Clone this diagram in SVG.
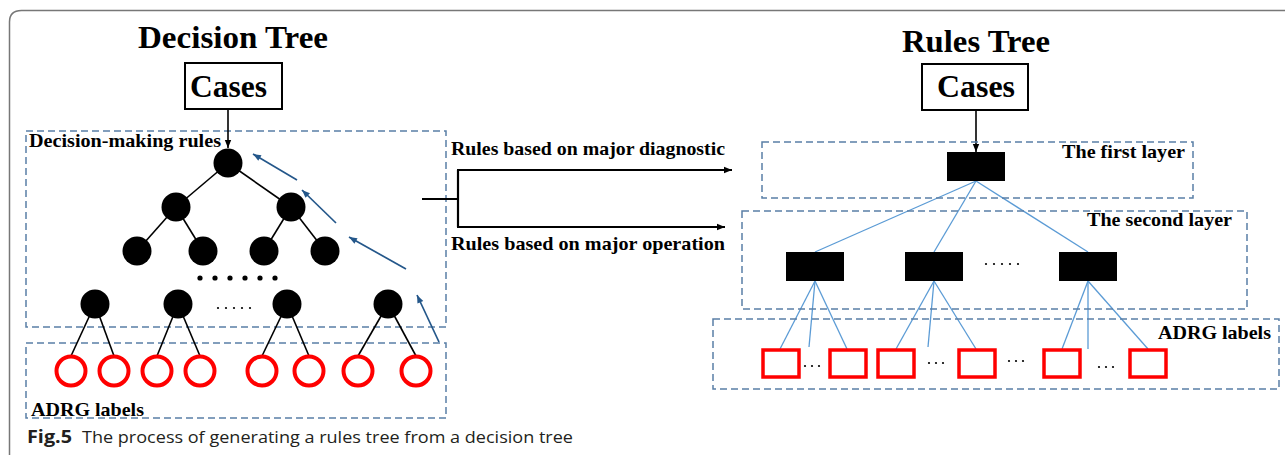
<svg xmlns="http://www.w3.org/2000/svg" width="1285" height="455" viewBox="0 0 1285 455">
  <style>
    .title { font-family: "Liberation Serif", "Times New Roman", serif; font-weight: bold; font-size: 32px; fill: #000; }
    .lbl { font-family: "Liberation Serif", "Times New Roman", serif; font-weight: bold; font-size: 19px; fill: #000; }
    .cap { font-family: "Open Sans", "Noto Sans", sans-serif; font-size: 17px; fill: #231f20; }
    .zone { fill: none; stroke: #5a7fa6; stroke-width: 1.5; stroke-dasharray: 7 4; }
    .box { fill: #fff; stroke: #000; stroke-width: 2; }
    .edge { stroke: #000; stroke-width: 1.6; fill: none; }
    .blue { stroke: #5b9bd5; stroke-width: 1.3; fill: none; }
    .back { stroke: #24578a; stroke-width: 1.7; fill: none; marker-end: url(#headBlue); }
    .flow { stroke: #000; stroke-width: 2.2; fill: none; }
    .dnode { fill: #000; }
    .leaf { fill: #fff; stroke: #ff0000; stroke-width: 4; }
    .rleaf { fill: #fff; stroke: #ff0000; stroke-width: 3.5; }
    .dot { fill: #000; }
  </style>
  <defs>
    <marker id="headBlack" viewBox="0 0 10 10" refX="10" refY="5" markerWidth="8" markerHeight="8" markerUnits="userSpaceOnUse" orient="auto">
      <path d="M0 1 L10 5 L0 9 Z" fill="#000"/>
    </marker>
    <marker id="headFlow" viewBox="0 0 10 10" refX="10" refY="5" markerWidth="9" markerHeight="8" markerUnits="userSpaceOnUse" orient="auto">
      <path d="M0 1 L10 5 L0 9 Z" fill="#000"/>
    </marker>
    <marker id="headBlue" viewBox="0 0 10 10" refX="10" refY="5" markerWidth="9" markerHeight="8" markerUnits="userSpaceOnUse" orient="auto">
      <path d="M0 1 L10 5 L0 9 Z" fill="#24578a"/>
    </marker>
  </defs>

  <!-- figure frame (open at right and bottom) -->
  <path d="M9.5 455 V22 Q9.5 10.5 21.5 10.5 H1285" fill="none" stroke="#777" stroke-width="1.5"/>

  <!-- ===== Decision tree (left) ===== -->
  <text class="title" x="138" y="48" textLength="190" lengthAdjust="spacingAndGlyphs">Decision Tree</text>

  <g id="zone-rules">
    <rect class="zone" x="26" y="131" width="420" height="196"/>
    <text class="lbl" x="29" y="147" font-size="18" textLength="192" lengthAdjust="spacingAndGlyphs">Decision-making rules</text>
  </g>
  <g id="zone-adrg-left">
    <rect class="zone" x="26" y="343" width="420" height="75"/>
    <text class="lbl" x="31" y="416" textLength="113" lengthAdjust="spacingAndGlyphs">ADRG labels</text>
  </g>

  <g id="connectors">
    <!-- cases to root -->
    <line class="edge" x1="228" y1="109" x2="228" y2="148" marker-end="url(#headBlack)"/>
    <!-- decision tree edges -->
    <line class="edge" x1="228" y1="163" x2="176" y2="207"/>
    <line class="edge" x1="228" y1="163" x2="291" y2="207"/>
    <line class="edge" x1="176" y1="207" x2="137" y2="251"/>
    <line class="edge" x1="176" y1="207" x2="203" y2="251"/>
    <line class="edge" x1="291" y1="207" x2="264" y2="251"/>
    <line class="edge" x1="291" y1="207" x2="325" y2="251"/>
    <line class="edge" x1="95" y1="304" x2="71" y2="356"/>
    <line class="edge" x1="95" y1="304" x2="114" y2="356"/>
    <line class="edge" x1="178" y1="304" x2="157" y2="356"/>
    <line class="edge" x1="178" y1="304" x2="200" y2="356"/>
    <line class="edge" x1="287" y1="304" x2="262" y2="356"/>
    <line class="edge" x1="287" y1="304" x2="309" y2="356"/>
    <line class="edge" x1="388" y1="304" x2="358" y2="356"/>
    <line class="edge" x1="388" y1="304" x2="416" y2="356"/>
    <!-- upward rule extraction arrows -->
    <line class="back" x1="297" y1="180" x2="253" y2="154"/>
    <line class="back" x1="336" y1="223" x2="302" y2="190"/>
    <line class="back" x1="406" y1="269" x2="349" y2="237"/>
    <line class="back" x1="439" y1="342" x2="417" y2="295"/>
    <!-- split into the two rule families -->
    <path class="flow" d="M422 199 H458"/>
    <path class="flow" d="M458 170 V227"/>
    <path class="flow" d="M457 170 H732" marker-end="url(#headFlow)"/>
    <path class="flow" d="M457 227 H725" marker-end="url(#headFlow)"/>
    <!-- rules tree -->
    <line class="edge" x1="976" y1="110" x2="976" y2="152" marker-end="url(#headBlack)"/>
    <line class="blue" x1="976" y1="181" x2="815" y2="252"/>
    <line class="blue" x1="976" y1="181" x2="934" y2="252"/>
    <line class="blue" x1="976" y1="181" x2="1088" y2="252"/>
    <line class="blue" x1="815" y1="281" x2="780" y2="349"/>
    <line class="blue" x1="815" y1="281" x2="809" y2="347"/>
    <line class="blue" x1="815" y1="281" x2="847" y2="349"/>
    <line class="blue" x1="934" y1="281" x2="896" y2="349"/>
    <line class="blue" x1="934" y1="281" x2="928" y2="347"/>
    <line class="blue" x1="934" y1="281" x2="976" y2="349"/>
    <line class="blue" x1="1088" y1="281" x2="1062" y2="349"/>
    <line class="blue" x1="1088" y1="281" x2="1088" y2="349"/>
    <line class="blue" x1="1088" y1="281" x2="1148" y2="349"/>
  </g>

  <g id="cases-left">
    <rect class="box" x="185" y="63" width="97" height="46"/>
    <text class="title" x="190" y="97" font-size="31" textLength="77" lengthAdjust="spacingAndGlyphs">Cases</text>
  </g>

  <g id="dt-root"><circle class="dnode" cx="228" cy="163" r="14.5"/></g>
  <g id="dt-l2a"><circle class="dnode" cx="176" cy="207" r="14.5"/></g>
  <g id="dt-l2b"><circle class="dnode" cx="291" cy="207" r="14.5"/></g>
  <g id="dt-l3a"><circle class="dnode" cx="137" cy="251" r="14.5"/></g>
  <g id="dt-l3b"><circle class="dnode" cx="203" cy="251" r="14.5"/></g>
  <g id="dt-l3c"><circle class="dnode" cx="264" cy="251" r="14.5"/></g>
  <g id="dt-l3d"><circle class="dnode" cx="325" cy="251" r="14.5"/></g>
  <g id="dt-ellipsis">
    <circle class="dot" cx="200" cy="278" r="2.6"/>
    <circle class="dot" cx="215" cy="278" r="2.6"/>
    <circle class="dot" cx="230" cy="278" r="2.6"/>
    <circle class="dot" cx="245" cy="278" r="2.6"/>
    <circle class="dot" cx="260" cy="278" r="2.6"/>
    <circle class="dot" cx="275" cy="278" r="2.6"/>
    <circle class="dot" cx="218" cy="308" r="1.1"/>
    <circle class="dot" cx="226" cy="308" r="1.1"/>
    <circle class="dot" cx="234" cy="308" r="1.1"/>
    <circle class="dot" cx="242" cy="308" r="1.1"/>
    <circle class="dot" cx="250" cy="308" r="1.1"/>
  </g>
  <g id="dt-l4a"><circle class="dnode" cx="95" cy="304" r="14.5"/></g>
  <g id="dt-l4b"><circle class="dnode" cx="178" cy="304" r="14.5"/></g>
  <g id="dt-l4c"><circle class="dnode" cx="287" cy="304" r="14.5"/></g>
  <g id="dt-l4d"><circle class="dnode" cx="388" cy="304" r="14.5"/></g>

  <g id="dt-leaves">
    <circle class="leaf" cx="71" cy="371" r="14.5"/>
    <circle class="leaf" cx="114" cy="371" r="14.5"/>
    <circle class="leaf" cx="157" cy="371" r="14.5"/>
    <circle class="leaf" cx="200" cy="371" r="14.5"/>
    <circle class="leaf" cx="262" cy="371" r="14.5"/>
    <circle class="leaf" cx="309" cy="371" r="14.5"/>
    <circle class="leaf" cx="358" cy="371" r="14.5"/>
    <circle class="leaf" cx="416" cy="371" r="14.5"/>
  </g>

  <g id="split-labels">
    <text class="lbl" x="451" y="155" font-size="18" textLength="274" lengthAdjust="spacingAndGlyphs">Rules based on major diagnostic</text>
    <text class="lbl" x="451" y="250" font-size="18" textLength="274" lengthAdjust="spacingAndGlyphs">Rules based on major operation</text>
  </g>

  <!-- ===== Rules tree (right) ===== -->
  <text class="title" x="902" y="52" textLength="148" lengthAdjust="spacingAndGlyphs">Rules Tree</text>

  <g id="cases-right">
    <rect class="box" x="922" y="64" width="106" height="46"/>
    <text class="title" x="937" y="97" font-size="31" textLength="78" lengthAdjust="spacingAndGlyphs">Cases</text>
  </g>

  <g id="zone-first">
    <rect class="zone" x="762" y="142" width="431" height="56"/>
    <text class="lbl" x="1062" y="158" font-size="18" textLength="123" lengthAdjust="spacingAndGlyphs">The first layer</text>
  </g>
  <g id="zone-second">
    <rect class="zone" x="742" y="211" width="505" height="98"/>
    <text class="lbl" x="1087" y="226" textLength="145" lengthAdjust="spacingAndGlyphs">The second layer</text>
  </g>
  <g id="zone-adrg-right">
    <rect class="zone" x="713" y="319" width="566" height="70"/>
    <text class="lbl" x="1158" y="339" textLength="113" lengthAdjust="spacingAndGlyphs">ADRG labels</text>
  </g>

  <g id="rt-first"><rect x="947" y="152" width="58" height="29" fill="#000"/></g>
  <g id="rt-second-a"><rect x="786" y="252" width="58" height="29" fill="#000"/></g>
  <g id="rt-second-b"><rect x="905" y="252" width="58" height="29" fill="#000"/></g>
  <g id="rt-second-c"><rect x="1059" y="252" width="58" height="29" fill="#000"/></g>
  <g id="rt-second-ellipsis">
    <circle class="dot" cx="986" cy="264" r="1.1"/>
    <circle class="dot" cx="994" cy="264" r="1.1"/>
    <circle class="dot" cx="1002" cy="264" r="1.1"/>
    <circle class="dot" cx="1010" cy="264" r="1.1"/>
    <circle class="dot" cx="1018" cy="264" r="1.1"/>
  </g>

  <g id="rt-leaves">
    <rect class="rleaf" x="763" y="350" width="36" height="27"/>
    <rect class="rleaf" x="830" y="350" width="36" height="27"/>
    <rect class="rleaf" x="878" y="350" width="36" height="27"/>
    <rect class="rleaf" x="959" y="350" width="36" height="27"/>
    <rect class="rleaf" x="1044" y="350" width="36" height="27"/>
    <rect class="rleaf" x="1130" y="350" width="36" height="27"/>
    <!-- gaps between leaf groups -->
    <circle class="dot" cx="805" cy="366" r="1.1"/><circle class="dot" cx="812" cy="366" r="1.1"/><circle class="dot" cx="819" cy="366" r="1.1"/>
    <circle class="dot" cx="929" cy="363" r="1.1"/><circle class="dot" cx="936" cy="363" r="1.1"/><circle class="dot" cx="943" cy="363" r="1.1"/>
    <circle class="dot" cx="1009" cy="361" r="1.1"/><circle class="dot" cx="1016" cy="361" r="1.1"/><circle class="dot" cx="1023" cy="361" r="1.1"/>
    <circle class="dot" cx="1099" cy="367" r="1.1"/><circle class="dot" cx="1106" cy="367" r="1.1"/><circle class="dot" cx="1113" cy="367" r="1.1"/>
  </g>

  <!-- caption -->
  <g id="caption">
    <text class="cap" x="27" y="443" font-weight="bold" textLength="45" lengthAdjust="spacingAndGlyphs">Fig.5</text>
    <text class="cap" x="82" y="443" textLength="491" lengthAdjust="spacingAndGlyphs">The process of generating a rules tree from a decision tree</text>
  </g>
</svg>
